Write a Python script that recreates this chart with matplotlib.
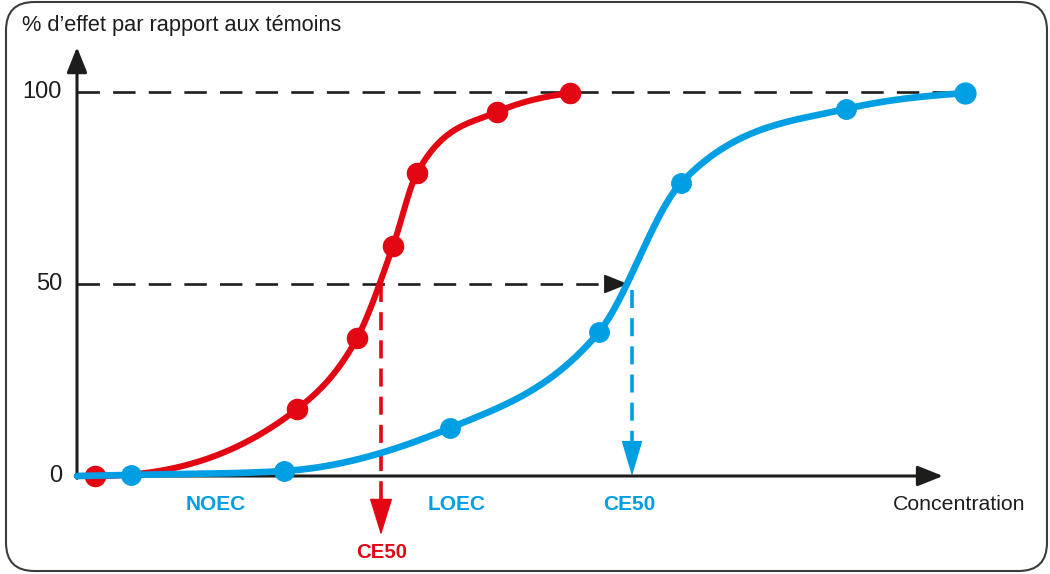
import numpy as np
import matplotlib
matplotlib.use("Agg")
import matplotlib.pyplot as plt
from matplotlib.patches import FancyBboxPatch

plt.rcParams['font.family'] = ['Liberation Sans', 'DejaVu Sans']

# ---------------- data ----------------
red_conc = [95, 297, 357, 393, 417, 497, 570]
red_effect = [0, 17.4, 35.9, 59.9, 78.9, 94.8, 99.7]
blue_conc = [131, 284, 450, 599, 681, 846, 965]
blue_effect = [0.3, 1.3, 12.5, 37.5, 76.3, 95.6, 99.7]
origin_conc = 77
x_axis_end = 943
y_axis_end = 111.7
y_ticks = [0, 50, 100]
y_ticklabels = ["0", "50", "100"]
red_ce50 = 381
blue_ce50 = 632
blue_labels = ["NOEC", "LOEC", "CE50"]
blue_label_pos = [216, 457, 629]
red_label = "CE50"
red_label_pos = 382
ylabel = "% d\u2019effet par rapport aux témoins"
xlabel = "Concentration"

RED = "#E30613"
BLUE = "#009FE3"
BLACK = "#1d1d1b"


def smooth(x, y, xs):
    """Piecewise cubic Hermite curve through the points."""
    x = np.asarray(x, float)
    y = np.asarray(y, float)
    h = np.diff(x)
    d = np.diff(y) / h
    n = len(x)
    m = np.zeros(n)
    for k in range(1, n - 1):
        if d[k - 1] * d[k] <= 0:
            m[k] = 0
        else:
            w1 = 2 * h[k] + h[k - 1]
            w2 = h[k] + 2 * h[k - 1]
            harm = (w1 + w2) / (w1 / d[k - 1] + w2 / d[k])
            three = (h[k] * d[k - 1] + h[k - 1] * d[k]) / (h[k - 1] + h[k])
            three = min(three, 3 * min(d[k - 1], d[k]))
            m[k] = 0.5 * (harm + three)
    m[0] = d[0]
    m[-1] = d[-1] * 0.5
    out = np.empty_like(xs)
    idx = np.clip(np.searchsorted(x, xs) - 1, 0, n - 2)
    for i, (xv, k) in enumerate(zip(xs, idx)):
        t = (xv - x[k]) / h[k]
        h00 = 2 * t**3 - 3 * t**2 + 1
        h10 = t**3 - 2 * t**2 + t
        h01 = -2 * t**3 + 3 * t**2
        h11 = t**3 - t**2
        out[i] = h00 * y[k] + h10 * h[k] * m[k] + h01 * y[k + 1] + h11 * h[k] * m[k + 1]
    return out


W, H = 1050, 574
fig = plt.figure(figsize=(W / 100, H / 100), dpi=100)
ax = fig.add_axes([0, 0, 1, 1])
ax.set_xlim(0, W)
ax.set_ylim((476 - 574) / 3.84, 476 / 3.84)
ax.axis("off")

# rounded border
border = FancyBboxPatch((6 / W, 3 / H), 1041 / W, 569 / H,
                        boxstyle="round,pad=0,rounding_size=0.027",
                        transform=fig.transFigure, fill=False,
                        edgecolor="#3c3c3b", linewidth=1.5,
                        mutation_aspect=W / H)
fig.patches.append(border)


def head(x0, y0, x1, y1, color, hl, hw, lw, z=5):
    ax.annotate("", xy=(x1, y1), xytext=(x0, y0),
                arrowprops=dict(arrowstyle=f"-|>,head_length={hl},head_width={hw}",
                                color=color, lw=lw, shrinkA=0, shrinkB=0,
                                mutation_scale=1), zorder=z)


# axes with arrows
head(origin_conc, -0.6, origin_conc, y_axis_end, BLACK, 15.5, 6.2, 2.2)
head(origin_conc - 1, 0, x_axis_end, 0, BLACK, 15.5, 6.2, 2.2)

# dashed reference lines
ax.plot([origin_conc, blue_conc[-1]], [100, 100], color=BLACK, lw=1.9,
        linestyle=(0, (8.5, 5.0)), zorder=2)
ax.plot([origin_conc, blue_ce50 - 22], [50, 50], color=BLACK, lw=1.9,
        linestyle=(0, (8.5, 5.0)), zorder=2)
head(blue_ce50 - 24, 50, blue_ce50 - 4, 50, BLACK, 15, 6.0, 1.2)

# vertical dashed CE50 lines
ax.plot([red_ce50, red_ce50], [50, -8], color=RED, lw=2.6,
        linestyle=(0, (5.0, 2.8)), zorder=2)
head(red_ce50, -6.2, red_ce50, -15.4, RED, 24, 7.4, 1.0, z=3)
ax.plot([blue_ce50, blue_ce50], [48.5, 9], color=BLUE, lw=2.6,
        linestyle=(0, (5.0, 2.8)), zorder=2)
head(blue_ce50, 8.8, blue_ce50, 0, BLUE, 23, 6.8, 1.0, z=3)

# curves
xr = np.linspace(origin_conc, red_conc[-1], 500)
yr = smooth([origin_conc] + red_conc, [0] + red_effect, xr)
xb = np.linspace(origin_conc, blue_conc[-1], 800)
yb = smooth([origin_conc] + blue_conc, [0] + blue_effect, xb)

ax.plot(xr, yr, color=RED, lw=4.4, solid_capstyle="round", zorder=6)
ax.plot(red_conc, red_effect, "o", color=RED, ms=14.5, zorder=7)
ax.plot(xb, yb, color=BLUE, lw=4.8, solid_capstyle="round", zorder=8)
ax.plot(blue_conc[:-1], blue_effect[:-1], "o", color=BLUE, ms=14, zorder=9)
ax.plot(blue_conc[-1:], blue_effect[-1:], "o", color=BLUE, ms=15, zorder=9)

# tick labels
for v, lab in zip(y_ticks, y_ticklabels):
    ax.text(62, v, lab, ha="right", va="center", fontsize=17, color=BLACK)

ax.text(22, 117.2, ylabel, ha="left", va="center", fontsize=15.7, color=BLACK)
ax.text(1025, -7.5, xlabel, ha="right", va="center", fontsize=15.3, color=BLACK)

for lab, xp in zip(blue_labels, blue_label_pos):
    ax.text(xp, -7.5, lab, ha="center", va="center", fontsize=15,
            fontweight="bold", color=BLUE)
ax.text(red_label_pos, -19.8, red_label, ha="center", va="center",
        fontsize=14.7, fontweight="bold", color=RED)

fig.savefig("out.png", dpi=100)
